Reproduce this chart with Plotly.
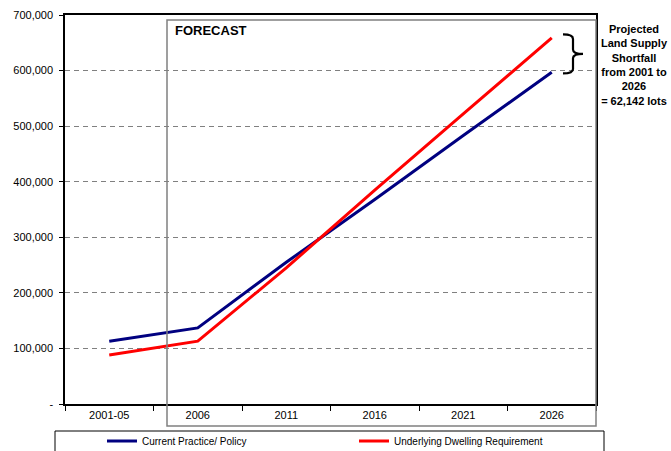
import plotly.graph_objects as go

categories = ["2001-05", "2006", "2011", "2016", "2021", "2026"]
current_policy = [113000, 137000, 255000, 368000, 483000, 597000]
dwelling_req = [88000, 113000, 245000, 385000, 522000, 659000]
y_ticks = [0, 100000, 200000, 300000, 400000, 500000, 600000, 700000]
y_tick_labels = ["-", "100,000", "200,000", "300,000", "400,000", "500,000", "600,000", "700,000"]

FONT = "Arial, Liberation Sans, sans-serif"

fig = go.Figure()
fig.add_trace(go.Scatter(x=categories, y=current_policy, mode="lines",
                         name="Current Practice/ Policy",
                         line=dict(color="#000080", width=3)))
fig.add_trace(go.Scatter(x=categories, y=dwelling_req, mode="lines",
                         name="Underlying Dwelling Requirement",
                         line=dict(color="#FF0000", width=3)))

L, R, T, B = 65, 75, 15, 47
W, H = 671, 451
pw, ph = W - L - R, H - T - B

def px_x(x):
    return (x - L) / pw

def px_y(y):
    return (H - B - y) / ph

fig.update_layout(
    width=W, height=H,
    margin=dict(l=L, r=R, t=T, b=B, autoexpand=False),
    paper_bgcolor="white", plot_bgcolor="white",
    font=dict(family=FONT, size=11, color="black"),
    showlegend=True,
    legend=dict(orientation="h", x=px_x(102), y=px_y(441), xanchor="left", yanchor="middle",
                font=dict(size=10, family=FONT), entrywidth=207, entrywidthmode="pixels",
                itemwidth=30, bgcolor="rgba(0,0,0,0)", tracegroupgap=0),
    xaxis=dict(type="category", range=[-0.5, 5.5], showgrid=False, showline=True,
               linecolor="black", linewidth=1.5,
               mirror=True, ticks="outside", ticklen=5, tickcolor="black", tickson="boundaries",
               tickfont=dict(size=11), zeroline=False, fixedrange=True, automargin=False),
    yaxis=dict(range=[0, 700000], tickvals=y_ticks, ticktext=y_tick_labels,
               showgrid=True, gridcolor="#808080", griddash="5px,4px", gridwidth=1,
               showline=True, linecolor="black", linewidth=1.5, mirror=True,
               ticks="outside", ticklen=4, tickcolor="black", zeroline=False,
               tickfont=dict(size=11), ticklabelstandoff=4, automargin=False),
)

# Forecast box
fig.add_shape(type="rect", xref="paper", yref="paper",
              x0=px_x(167), x1=1.0, y0=px_y(426), y1=px_y(20),
              line=dict(color="#808080", width=1.5), fillcolor="rgba(0,0,0,0)", layer="above")
fig.add_annotation(xref="paper", yref="paper", x=px_x(173), y=px_y(31), xanchor="left",
                   yanchor="middle", text="<b>FORECAST</b>", showarrow=False,
                   font=dict(size=13, family=FONT, color="black"))

# Legend border
fig.add_shape(type="rect", xref="paper", yref="paper",
              x0=px_x(55), x1=px_x(604), y0=px_y(455), y1=px_y(431),
              line=dict(color="black", width=1), fillcolor="rgba(0,0,0,0)")

# Brace
bx0, bx1, bx2 = px_x(563), px_x(573), px_x(583)
yt, ym, yb = 665000, 630000, 595000
path = (f"M {bx0},{yt} Q {bx1},{yt} {bx1},{yt-8000} L {bx1},{ym+8000} "
        f"Q {bx1},{ym} {bx2},{ym} Q {bx1},{ym} {bx1},{ym-8000} L {bx1},{yb+8000} "
        f"Q {bx1},{yb} {bx0},{yb}")
fig.add_shape(type="path", xref="paper", yref="y", path=path,
              line=dict(color="black", width=2.2))

fig.add_annotation(xref="paper", yref="paper", x=px_x(634), y=px_y(21), xanchor="center",
                   yanchor="top", showarrow=False, align="center",
                   text="<b>Projected<br>Land Supply<br>Shortfall<br>from 2001 to<br>2026<br>= 62,142 lots</b>",
                   font=dict(size=11, family=FONT, color="black"))

fig.write_html("out.html")
